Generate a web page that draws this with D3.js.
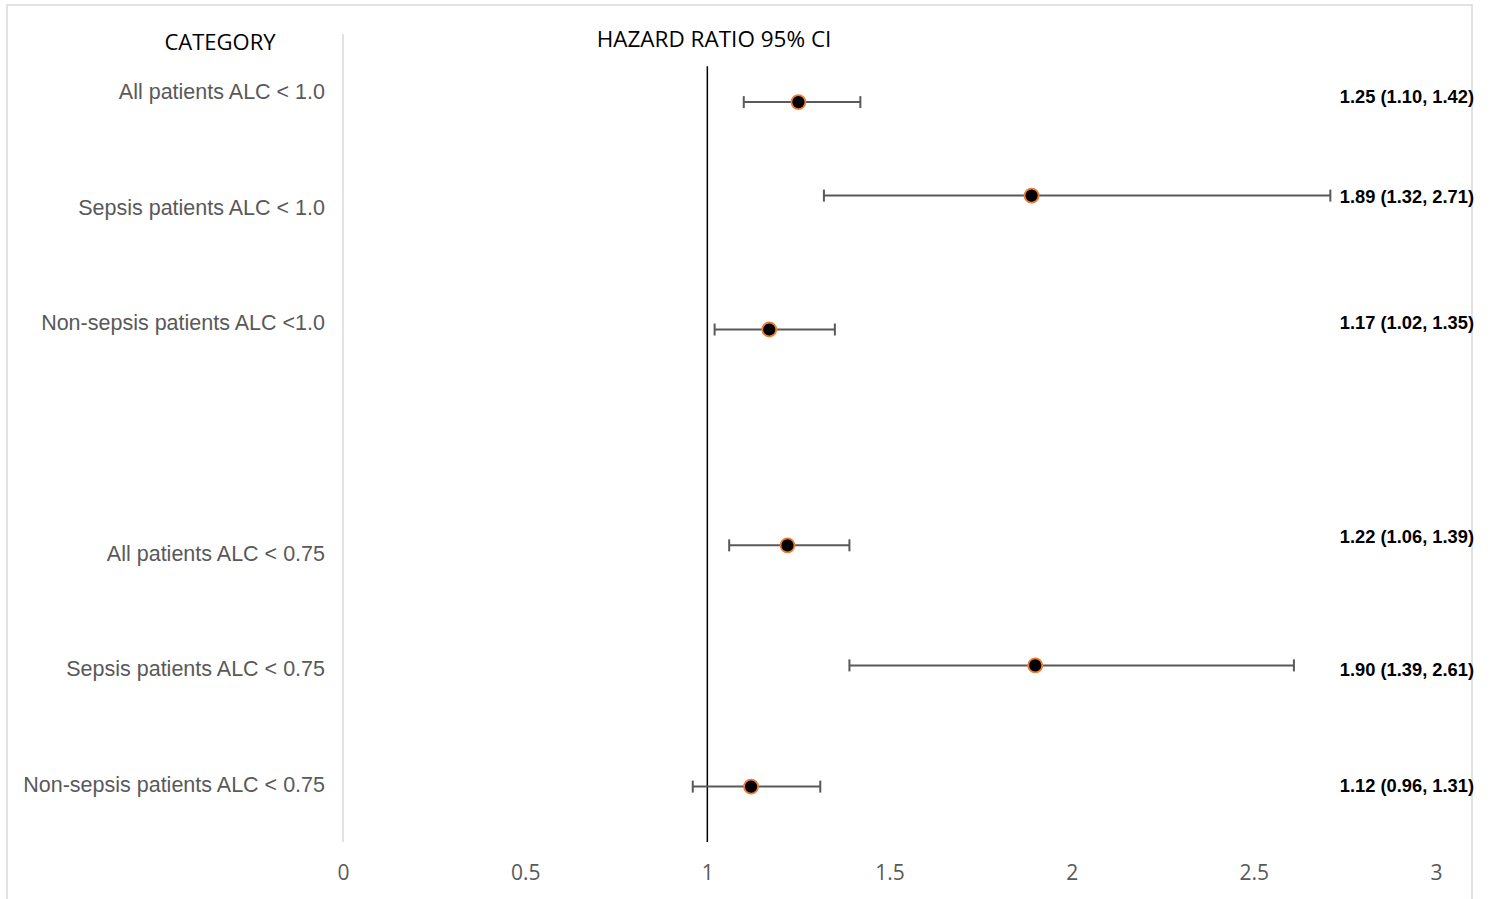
<!DOCTYPE html>
<html>
<head>
<meta charset="utf-8">
<script src="https://cdn.jsdelivr.net/npm/d3@7"></script>
<style>
  html, body { margin: 0; padding: 0; background: #fff; }
  svg { display: block; }
</style>
</head>
<body>
<svg id="chart" width="1491" height="899"></svg>
<script>
// Forest plot: hazard ratios with 95% confidence intervals
const categories = [
  "All patients ALC < 1.0",
  "Sepsis patients ALC < 1.0",
  "Non-sepsis patients ALC <1.0",
  "All patients ALC < 0.75",
  "Sepsis patients ALC < 0.75",
  "Non-sepsis patients ALC < 0.75"
];
const hazardRatio = [1.25, 1.89, 1.17, 1.22, 1.90, 1.12];
const ciLower     = [1.10, 1.32, 1.02, 1.06, 1.39, 0.96];
const ciUpper     = [1.42, 2.71, 1.35, 1.39, 2.61, 1.31];
// vertical placement of each row (y-axis units, 0..7)
const pointY      = [6.41, 5.60, 4.44, 2.57, 1.53, 0.48];
const categoryY   = [6.5, 5.5, 4.5, 2.5, 1.5, 0.5];
const valueLabelY = [6.46, 5.59, 4.50, 2.65, 1.49, 0.49];
const xTicks = [0, 0.5, 1, 1.5, 2, 2.5, 3];
const refLine = { x: 1, y0: 0, y1: 6.72 };

const svg = d3.select("#chart");

// outer frame
svg.append("rect")
  .attr("x", 7).attr("y", 5).attr("width", 1465).attr("height", 920)
  .attr("fill", "none").attr("stroke", "#d9d9d9").attr("stroke-width", 1.5);

const x = d3.scaleLinear().domain([0, 3]).range([343, 1436]);
const y = d3.scaleLinear().domain([0, 7]).range([842, 34]);

// left axis line
svg.append("line")
  .attr("x1", x(0)).attr("x2", x(0))
  .attr("y1", y(7)).attr("y2", y(0))
  .attr("stroke", "#d9d9d9").attr("stroke-width", 1.5);

// x axis tick labels
const xAxis = d3.axisBottom(x).tickValues(xTicks).tickSize(0).tickPadding(0)
  .tickFormat(d3.format("~g"));
const gx = svg.append("g").attr("transform", `translate(0,${y(0)})`).call(xAxis);
gx.select(".domain").remove();
gx.selectAll("text")
  .attr("dy", null).attr("y", 38)
  .attr("fill", "#595959")
  .style("font-family", "'Open Sans', sans-serif")
  .style("font-size", "21px");

// reference line at HR = 1
svg.append("line")
  .attr("x1", x(refLine.x)).attr("x2", x(refLine.x))
  .attr("y1", y(refLine.y1)).attr("y2", y(refLine.y0))
  .attr("stroke", "#000").attr("stroke-width", 1.5);

// headers
svg.append("text").attr("x", 220).attr("y", 50)
  .attr("text-anchor", "middle")
  .style("font-family", "'Open Sans', sans-serif").style("font-size", "22px")
  .attr("fill", "#000").text("CATEGORY");
svg.append("text").attr("x", 714).attr("y", 47)
  .attr("text-anchor", "middle")
  .style("font-family", "'Open Sans', sans-serif").style("font-size", "22.5px")
  .attr("fill", "#000").text("HAZARD RATIO 95% CI");

const rows = categories.map((c, i) => ({
  cat: c, hr: hazardRatio[i], lo: ciLower[i], hi: ciUpper[i],
  py: pointY[i], cy: categoryY[i], vy: valueLabelY[i]
}));

// category labels
svg.append("g").selectAll("text").data(rows).join("text")
  .attr("x", 325).attr("y", d => y(d.cy))
  .attr("dy", "0.35em")
  .attr("text-anchor", "end")
  .attr("fill", "#595959")
  .style("font-family", "'Liberation Sans', Arial, sans-serif")
  .style("font-size", "21.5px")
  .text(d => d.cat);

// error bars
const eb = svg.append("g").selectAll("g").data(rows).join("g")
  .attr("stroke", "#595959").attr("stroke-width", 2);
eb.append("line")
  .attr("x1", d => x(d.lo)).attr("x2", d => x(d.hi))
  .attr("y1", d => y(d.py)).attr("y2", d => y(d.py));
eb.append("line")
  .attr("x1", d => x(d.lo)).attr("x2", d => x(d.lo))
  .attr("y1", d => y(d.py) - 6).attr("y2", d => y(d.py) + 6);
eb.append("line")
  .attr("x1", d => x(d.hi)).attr("x2", d => x(d.hi))
  .attr("y1", d => y(d.py) - 6).attr("y2", d => y(d.py) + 6);

// point estimates
svg.append("g").selectAll("circle").data(rows).join("circle")
  .attr("cx", d => x(d.hr)).attr("cy", d => y(d.py))
  .attr("r", 7)
  .attr("fill", "#000").attr("stroke", "#ed7d31").attr("stroke-width", 1.8);

// value labels
const f2 = d3.format(".2f");
svg.append("g").selectAll("text").data(rows).join("text")
  .attr("x", 1474).attr("y", d => y(d.vy))
  .attr("dy", "0.35em")
  .attr("text-anchor", "end")
  .attr("fill", "#000")
  .style("font-family", "'Liberation Sans', Arial, sans-serif")
  .style("font-size", "18.3px").style("font-weight", "bold")
  .text(d => `${f2(d.hr)} (${f2(d.lo)}, ${f2(d.hi)})`);
</script>
</body>
</html>
